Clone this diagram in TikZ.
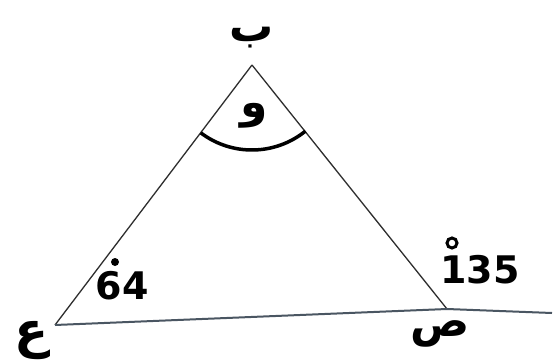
\documentclass[tikz,border=0pt]{standalone}
\usepackage{fontspec}
\TeXXeTstate=1
\newfontfamily\arabicfont[Script=Arabic]{DejaVu Sans}
\newfontfamily\numfont{DejaVu Sans}
\definecolor{sideline}{HTML}{2E2E2E}
\definecolor{baseline}{HTML}{4A5662}
\begin{document}
\begin{tikzpicture}[x=1pt,y=-1pt,
  side/.style={draw=sideline,line width=1.3pt},
  base/.style={draw=baseline,line width=2pt},
  letter/.style={inner sep=0pt,font=\arabicfont\bfseries\fontsize{50}{50}\selectfont},
  num/.style={inner sep=0pt,font=\numfont\bfseries\fontsize{38}{38}\selectfont},
  anglearc/.style={draw=black,line width=3.5pt},
  degmark/.style={draw=black,line width=3pt}]
\useasboundingbox (0,0) rectangle (557,361);
\fill[white] (0,0) rectangle (557,361);
\coordinate (B) at (252,65);
\coordinate (A) at (55,325);
\coordinate (C) at (447,309);
\coordinate (E) at (552,313);
\draw[side] (B) -- (A);
\draw[side] (B) -- (C);
\draw[base] (A) -- (C) -- (E);
\draw[anglearc] (B) ++(127:85) arc[start angle=127,end angle=51,radius=85];
\node[letter,font=\arabicfont\bfseries\fontsize{44}{44}\selectfont] (lb) at (252,38) {\beginR ب\endR};
\node[letter,font=\arabicfont\bfseries\fontsize{44}{44}\selectfont] (lw) at (254,116) {\beginR و\endR};
\node[letter] (la) at (32,340) {\beginR ع\endR};
\node[letter,font=\arabicfont\bfseries\fontsize{44}{44}\selectfont] (lc) at (440,334) {\beginR ص\endR};
\node[num] (n64) at (122,286) {64};
\node[num] (n135) at (480,270) {135};
\coordinate (d64) at (115,262);
\coordinate (d135) at (452,243);
\fill[black] (d64) circle[radius=4];
\draw[degmark] (d135) circle[radius=5];
\end{tikzpicture}
\end{document}
